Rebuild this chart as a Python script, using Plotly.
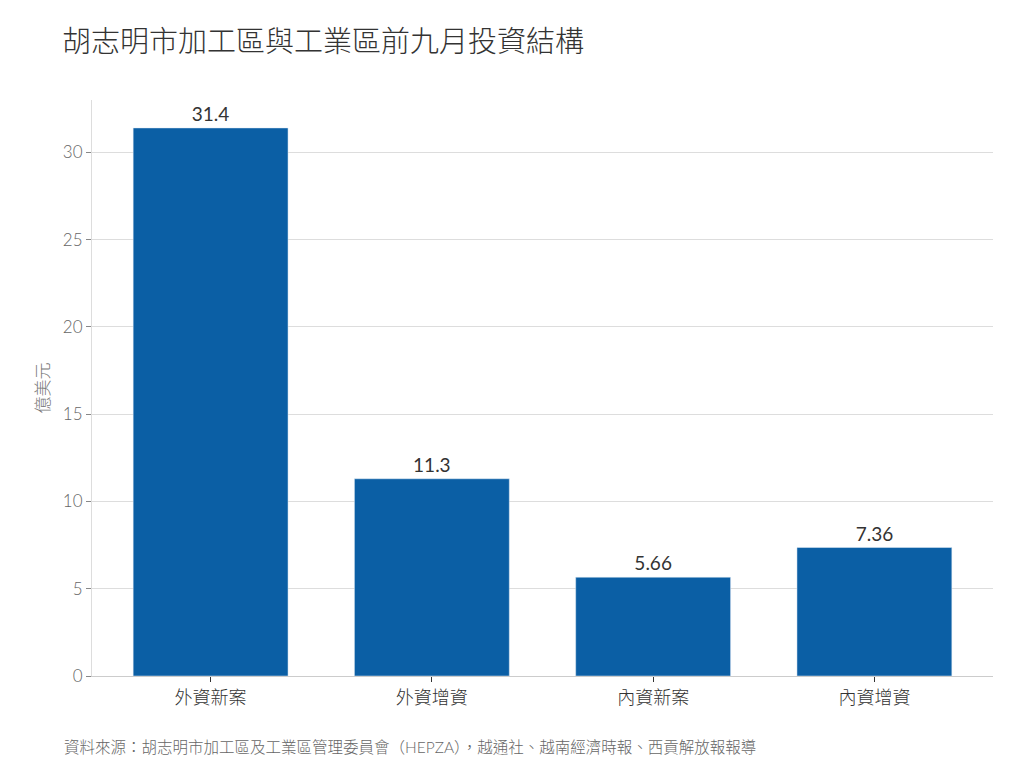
import plotly.graph_objects as go

categories = ["外資新案", "外資增資", "內資新案", "內資增資"]
values = [31.4, 11.3, 5.66, 7.36]
labels = ["31.4", "11.3", "5.66", "7.36"]

font_family = "Lato, 'Noto Sans CJK TC', sans-serif"

fig = go.Figure()
fig.add_trace(go.Bar(
    x=categories,
    y=values,
    text=labels,
    textposition="outside",
    textfont=dict(size=19, color="#333333"),
    marker=dict(color="#0b5fa5"),
    cliponaxis=False,
))

fig.update_layout(
    width=1024,
    height=768,
    paper_bgcolor="white",
    plot_bgcolor="white",
    font=dict(family=font_family, color="#555555"),
    title=dict(
        text="胡志明市加工區與工業區前九月投資結構",
        x=54 / 1024, xanchor="left", y=1 - 34 / 768, yanchor="middle",
        font=dict(size=29, color="#333333", weight=300),
    ),
    margin=dict(l=84, r=39, t=92, b=100),
    bargap=0.30,
    showlegend=False,
)

fig.update_yaxes(
    range=[0, 33],
    tickvals=[0, 5, 10, 15, 20, 25, 30],
    showgrid=True, gridcolor="#dddddd",
    showline=True, linecolor="#dddddd",
    ticks="outside", ticklen=5, tickcolor="#888888",
    tickfont=dict(size=17, color="#666666", weight=300),
    title=dict(text="億美元", font=dict(size=17, color="#777777", weight=300), standoff=8),
    zeroline=False,
)
fig.update_xaxes(
    range=[-0.536, 3.536],
    showline=True, linecolor="#cccccc",
    ticks="outside", ticklen=5, tickcolor="#333333",
    tickfont=dict(size=18, color="#333333", weight=300),
)

fig.add_annotation(
    text="資料來源：胡志明市加工區及工業區管理委員會（HEPZA），越通社、越南經濟時報、西貢解放報報導",
    xref="paper", yref="paper", x=-30 / 901, y=-71 / 576,
    xanchor="left", yanchor="middle", showarrow=False,
    font=dict(size=15.5, color="#666666", weight=300),
)

fig.write_html("out.html")
